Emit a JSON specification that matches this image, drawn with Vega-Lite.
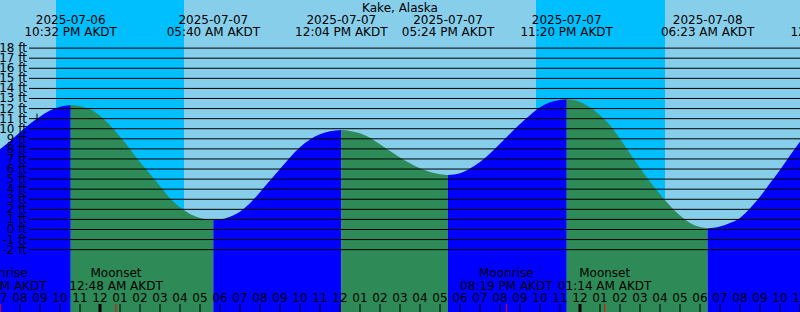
{
  "$schema": "https://vega.github.io/schema/vega-lite/v6.json",
  "width": 800,
  "height": 312,
  "padding": 0,
  "autosize": {"type": "none"},
  "background": "#87CEEB",
  "config": {"view": {"stroke": null}},
  "resolve": {"scale": {"color": "independent"}},
  "datasets": {
    "sky": [
      {"start": "2025-07-06T19:00", "end": "2025-07-06T21:48", "period": "day"},
      {"start": "2025-07-06T21:48", "end": "2025-07-07T04:12", "period": "night"},
      {"start": "2025-07-07T04:12", "end": "2025-07-07T21:48", "period": "day"},
      {"start": "2025-07-07T21:48", "end": "2025-07-08T04:15", "period": "night"},
      {"start": "2025-07-08T04:15", "end": "2025-07-08T11:00", "period": "day"}
    ],
    "tide": [
      {"t": "2025-07-06T19:00", "ft": 7.96, "seg": 1, "phase": "rising"},
      {"t": "2025-07-06T19:30", "ft": 8.75, "seg": 1, "phase": "rising"},
      {"t": "2025-07-06T20:00", "ft": 9.65, "seg": 1, "phase": "rising"},
      {"t": "2025-07-06T20:30", "ft": 10.5, "seg": 1, "phase": "rising"},
      {"t": "2025-07-06T21:00", "ft": 11.2, "seg": 1, "phase": "rising"},
      {"t": "2025-07-06T21:30", "ft": 11.8, "seg": 1, "phase": "rising"},
      {"t": "2025-07-06T22:00", "ft": 12.18, "seg": 1, "phase": "rising"},
      {"t": "2025-07-06T22:32", "ft": 12.35, "seg": 1, "phase": "rising"},
      {"t": "2025-07-06T22:32", "ft": 12.35, "seg": 2, "phase": "falling"},
      {"t": "2025-07-06T23:00", "ft": 12.24, "seg": 2, "phase": "falling"},
      {"t": "2025-07-06T23:25", "ft": 12.0, "seg": 2, "phase": "falling"},
      {"t": "2025-07-07T00:10", "ft": 11.0, "seg": 2, "phase": "falling"},
      {"t": "2025-07-07T00:40", "ft": 10.0, "seg": 2, "phase": "falling"},
      {"t": "2025-07-07T01:05", "ft": 9.0, "seg": 2, "phase": "falling"},
      {"t": "2025-07-07T01:30", "ft": 8.0, "seg": 2, "phase": "falling"},
      {"t": "2025-07-07T01:52", "ft": 7.0, "seg": 2, "phase": "falling"},
      {"t": "2025-07-07T02:15", "ft": 6.1, "seg": 2, "phase": "falling"},
      {"t": "2025-07-07T02:40", "ft": 5.1, "seg": 2, "phase": "falling"},
      {"t": "2025-07-07T03:05", "ft": 4.1, "seg": 2, "phase": "falling"},
      {"t": "2025-07-07T03:30", "ft": 3.1, "seg": 2, "phase": "falling"},
      {"t": "2025-07-07T04:00", "ft": 2.2, "seg": 2, "phase": "falling"},
      {"t": "2025-07-07T04:30", "ft": 1.55, "seg": 2, "phase": "falling"},
      {"t": "2025-07-07T05:00", "ft": 1.15, "seg": 2, "phase": "falling"},
      {"t": "2025-07-07T05:20", "ft": 1.0, "seg": 2, "phase": "falling"},
      {"t": "2025-07-07T05:40", "ft": 0.94, "seg": 2, "phase": "falling"},
      {"t": "2025-07-07T05:40", "ft": 0.94, "seg": 3, "phase": "rising"},
      {"t": "2025-07-07T06:00", "ft": 1.0, "seg": 3, "phase": "rising"},
      {"t": "2025-07-07T06:30", "ft": 1.27, "seg": 3, "phase": "rising"},
      {"t": "2025-07-07T07:00", "ft": 1.77, "seg": 3, "phase": "rising"},
      {"t": "2025-07-07T07:30", "ft": 2.6, "seg": 3, "phase": "rising"},
      {"t": "2025-07-07T08:00", "ft": 3.7, "seg": 3, "phase": "rising"},
      {"t": "2025-07-07T08:30", "ft": 4.85, "seg": 3, "phase": "rising"},
      {"t": "2025-07-07T09:00", "ft": 6.0, "seg": 3, "phase": "rising"},
      {"t": "2025-07-07T09:30", "ft": 7.15, "seg": 3, "phase": "rising"},
      {"t": "2025-07-07T10:00", "ft": 8.15, "seg": 3, "phase": "rising"},
      {"t": "2025-07-07T10:30", "ft": 8.92, "seg": 3, "phase": "rising"},
      {"t": "2025-07-07T11:00", "ft": 9.45, "seg": 3, "phase": "rising"},
      {"t": "2025-07-07T11:30", "ft": 9.74, "seg": 3, "phase": "rising"},
      {"t": "2025-07-07T12:04", "ft": 9.87, "seg": 3, "phase": "rising"},
      {"t": "2025-07-07T12:04", "ft": 9.87, "seg": 4, "phase": "falling"},
      {"t": "2025-07-07T12:30", "ft": 9.78, "seg": 4, "phase": "falling"},
      {"t": "2025-07-07T13:00", "ft": 9.55, "seg": 4, "phase": "falling"},
      {"t": "2025-07-07T13:30", "ft": 9.1, "seg": 4, "phase": "falling"},
      {"t": "2025-07-07T14:00", "ft": 8.45, "seg": 4, "phase": "falling"},
      {"t": "2025-07-07T14:30", "ft": 7.78, "seg": 4, "phase": "falling"},
      {"t": "2025-07-07T15:00", "ft": 7.15, "seg": 4, "phase": "falling"},
      {"t": "2025-07-07T15:30", "ft": 6.58, "seg": 4, "phase": "falling"},
      {"t": "2025-07-07T16:00", "ft": 6.08, "seg": 4, "phase": "falling"},
      {"t": "2025-07-07T16:30", "ft": 5.7, "seg": 4, "phase": "falling"},
      {"t": "2025-07-07T17:00", "ft": 5.48, "seg": 4, "phase": "falling"},
      {"t": "2025-07-07T17:24", "ft": 5.41, "seg": 4, "phase": "falling"},
      {"t": "2025-07-07T17:24", "ft": 5.41, "seg": 5, "phase": "rising"},
      {"t": "2025-07-07T18:00", "ft": 5.58, "seg": 5, "phase": "rising"},
      {"t": "2025-07-07T18:30", "ft": 6.05, "seg": 5, "phase": "rising"},
      {"t": "2025-07-07T19:00", "ft": 6.7, "seg": 5, "phase": "rising"},
      {"t": "2025-07-07T19:30", "ft": 7.53, "seg": 5, "phase": "rising"},
      {"t": "2025-07-07T20:00", "ft": 8.5, "seg": 5, "phase": "rising"},
      {"t": "2025-07-07T20:30", "ft": 9.5, "seg": 5, "phase": "rising"},
      {"t": "2025-07-07T21:00", "ft": 10.48, "seg": 5, "phase": "rising"},
      {"t": "2025-07-07T21:30", "ft": 11.33, "seg": 5, "phase": "rising"},
      {"t": "2025-07-07T22:00", "ft": 12.12, "seg": 5, "phase": "rising"},
      {"t": "2025-07-07T22:30", "ft": 12.63, "seg": 5, "phase": "rising"},
      {"t": "2025-07-07T23:00", "ft": 12.86, "seg": 5, "phase": "rising"},
      {"t": "2025-07-07T23:20", "ft": 12.92, "seg": 5, "phase": "rising"},
      {"t": "2025-07-07T23:20", "ft": 12.92, "seg": 6, "phase": "falling"},
      {"t": "2025-07-08T00:00", "ft": 12.66, "seg": 6, "phase": "falling"},
      {"t": "2025-07-08T00:30", "ft": 12.1, "seg": 6, "phase": "falling"},
      {"t": "2025-07-08T01:00", "ft": 11.35, "seg": 6, "phase": "falling"},
      {"t": "2025-07-08T01:30", "ft": 10.35, "seg": 6, "phase": "falling"},
      {"t": "2025-07-08T02:00", "ft": 9.0, "seg": 6, "phase": "falling"},
      {"t": "2025-07-08T02:30", "ft": 7.55, "seg": 6, "phase": "falling"},
      {"t": "2025-07-08T03:00", "ft": 6.1, "seg": 6, "phase": "falling"},
      {"t": "2025-07-08T03:30", "ft": 4.73, "seg": 6, "phase": "falling"},
      {"t": "2025-07-08T04:00", "ft": 3.5, "seg": 6, "phase": "falling"},
      {"t": "2025-07-08T04:30", "ft": 2.35, "seg": 6, "phase": "falling"},
      {"t": "2025-07-08T05:00", "ft": 1.38, "seg": 6, "phase": "falling"},
      {"t": "2025-07-08T05:30", "ft": 0.65, "seg": 6, "phase": "falling"},
      {"t": "2025-07-08T06:00", "ft": 0.25, "seg": 6, "phase": "falling"},
      {"t": "2025-07-08T06:23", "ft": 0.12, "seg": 6, "phase": "falling"},
      {"t": "2025-07-08T06:23", "ft": 0.12, "seg": 7, "phase": "rising"},
      {"t": "2025-07-08T07:00", "ft": 0.3, "seg": 7, "phase": "rising"},
      {"t": "2025-07-08T07:30", "ft": 0.65, "seg": 7, "phase": "rising"},
      {"t": "2025-07-08T08:00", "ft": 1.15, "seg": 7, "phase": "rising"},
      {"t": "2025-07-08T08:30", "ft": 2.1, "seg": 7, "phase": "rising"},
      {"t": "2025-07-08T09:00", "ft": 3.25, "seg": 7, "phase": "rising"},
      {"t": "2025-07-08T09:30", "ft": 4.58, "seg": 7, "phase": "rising"},
      {"t": "2025-07-08T10:00", "ft": 5.9, "seg": 7, "phase": "rising"},
      {"t": "2025-07-08T10:30", "ft": 7.35, "seg": 7, "phase": "rising"},
      {"t": "2025-07-08T11:00", "ft": 8.71, "seg": 7, "phase": "rising"}
    ],
    "levels": [
      {"ft": 18, "label": "18 ft"}, {"ft": 17, "label": "17 ft"}, {"ft": 16, "label": "16 ft"},
      {"ft": 15, "label": "15 ft"}, {"ft": 14, "label": "14 ft"}, {"ft": 13, "label": "13 ft"},
      {"ft": 12, "label": "12 ft"}, {"ft": 11, "label": "11 ft"}, {"ft": 10, "label": "10 ft"},
      {"ft": 9, "label": "9 ft"}, {"ft": 8, "label": "8 ft"}, {"ft": 7, "label": "7 ft"},
      {"ft": 6, "label": "6 ft"}, {"ft": 5, "label": "5 ft"}, {"ft": 4, "label": "4 ft"},
      {"ft": 3, "label": "3 ft"}, {"ft": 2, "label": "2 ft"}, {"ft": 1, "label": "1 ft"},
      {"ft": 0, "label": "0 ft"}, {"ft": -1, "label": "-1 ft"}, {"ft": -2, "label": "-2 ft"}
    ],
    "extremes": [
      {"t": "2025-07-06T22:32", "type": "High"},
      {"t": "2025-07-07T05:40", "type": "Low"},
      {"t": "2025-07-07T12:04", "type": "High"},
      {"t": "2025-07-07T17:24", "type": "Low"},
      {"t": "2025-07-07T23:20", "type": "High"},
      {"t": "2025-07-08T06:23", "type": "Low"},
      {"t": "2025-07-08T12:50", "type": "High"}
    ],
    "moon": [
      {"t": "2025-07-06T19:01", "event": "Moonrise"},
      {"t": "2025-07-07T00:48", "event": "Moonset"},
      {"t": "2025-07-07T20:19", "event": "Moonrise"},
      {"t": "2025-07-08T01:14", "event": "Moonset"}
    ],
    "hours": [
      {"t": "2025-07-06T19:00"}, {"t": "2025-07-06T20:00"}, {"t": "2025-07-06T21:00"},
      {"t": "2025-07-06T22:00"}, {"t": "2025-07-06T23:00"}, {"t": "2025-07-07T00:00"},
      {"t": "2025-07-07T01:00"}, {"t": "2025-07-07T02:00"}, {"t": "2025-07-07T03:00"},
      {"t": "2025-07-07T04:00"}, {"t": "2025-07-07T05:00"}, {"t": "2025-07-07T06:00"},
      {"t": "2025-07-07T07:00"}, {"t": "2025-07-07T08:00"}, {"t": "2025-07-07T09:00"},
      {"t": "2025-07-07T10:00"}, {"t": "2025-07-07T11:00"}, {"t": "2025-07-07T12:00"},
      {"t": "2025-07-07T13:00"}, {"t": "2025-07-07T14:00"}, {"t": "2025-07-07T15:00"},
      {"t": "2025-07-07T16:00"}, {"t": "2025-07-07T17:00"}, {"t": "2025-07-07T18:00"},
      {"t": "2025-07-07T19:00"}, {"t": "2025-07-07T20:00"}, {"t": "2025-07-07T21:00"},
      {"t": "2025-07-07T22:00"}, {"t": "2025-07-07T23:00"}, {"t": "2025-07-08T00:00"},
      {"t": "2025-07-08T01:00"}, {"t": "2025-07-08T02:00"}, {"t": "2025-07-08T03:00"},
      {"t": "2025-07-08T04:00"}, {"t": "2025-07-08T05:00"}, {"t": "2025-07-08T06:00"},
      {"t": "2025-07-08T07:00"}, {"t": "2025-07-08T08:00"}, {"t": "2025-07-08T09:00"},
      {"t": "2025-07-08T10:00"}, {"t": "2025-07-08T11:00"}
    ]
  },
  "layer": [
    {
      "data": {"name": "sky", "format": {"parse": {"start": "date", "end": "date"}}},
      "mark": {"type": "rect"},
      "encoding": {
        "x": {"field": "start", "type": "temporal", "axis": null, "scale": {"domain": [{"year": 2025, "month": 7, "date": 6, "hours": 19}, {"year": 2025, "month": 7, "date": 8, "hours": 11}], "nice": false}},
        "x2": {"field": "end"},
        "color": {"field": "period", "type": "nominal", "legend": null, "scale": {"domain": ["day", "night"], "range": ["#87CEEB", "#00BFFF"]}}
      }
    },
    {
      "data": {"name": "tide", "format": {"parse": {"t": "date"}}},
      "mark": {"type": "area", "interpolate": "monotone"},
      "encoding": {
        "x": {"field": "t", "type": "temporal", "axis": null, "scale": {"domain": [{"year": 2025, "month": 7, "date": 6, "hours": 19}, {"year": 2025, "month": 7, "date": 8, "hours": 11}], "nice": false}},
        "y": {"field": "ft", "type": "quantitative", "axis": null, "stack": null, "scale": {"domain": [-8.188, 22.775], "nice": false, "zero": false}},
        "y2": {"datum": -8.188},
        "color": {"field": "phase", "type": "nominal", "legend": null, "scale": {"domain": ["rising", "falling"], "range": ["#0000FF", "#2E8B57"]}},
        "detail": {"field": "seg"}
      }
    },
    {
      "data": {"name": "levels"},
      "mark": {"type": "rule", "color": "black", "strokeWidth": 1},
      "encoding": {
        "y": {"field": "ft", "type": "quantitative", "axis": null, "scale": {"domain": [-8.188, 22.775], "nice": false, "zero": false}},
        "x": {"datum": {"year": 2025, "month": 7, "date": 6, "hours": 20, "minutes": 27}, "type": "temporal", "axis": null, "scale": {"domain": [{"year": 2025, "month": 7, "date": 6, "hours": 19}, {"year": 2025, "month": 7, "date": 8, "hours": 11}], "nice": false}},
        "x2": {"datum": {"year": 2025, "month": 7, "date": 8, "hours": 11}}
      }
    },
    {
      "data": {"name": "levels"},
      "mark": {"type": "text", "font": "DejaVu Sans", "fontSize": 12, "fill": "black", "align": "right", "baseline": "middle"},
      "encoding": {
        "y": {"field": "ft", "type": "quantitative", "axis": null, "scale": {"domain": [-8.188, 22.775], "nice": false, "zero": false}},
        "x": {"datum": {"year": 2025, "month": 7, "date": 6, "hours": 20, "minutes": 21}, "type": "temporal", "axis": null, "scale": {"domain": [{"year": 2025, "month": 7, "date": 6, "hours": 19}, {"year": 2025, "month": 7, "date": 8, "hours": 11}], "nice": false}},
        "text": {"field": "label"}
      }
    },
    {
      "data": {"values": [{"t": "2025-07-06T20:51"}], "format": {"parse": {"t": "date"}}},
      "mark": {"type": "rule", "color": "black", "strokeWidth": 1},
      "encoding": {
        "x": {"field": "t", "type": "temporal", "axis": null, "scale": {"domain": [{"year": 2025, "month": 7, "date": 6, "hours": 19}, {"year": 2025, "month": 7, "date": 8, "hours": 11}], "nice": false}},
        "y": {"datum": 11.5, "type": "quantitative", "axis": null, "scale": {"domain": [-8.188, 22.775], "nice": false, "zero": false}},
        "y2": {"datum": 10.55}
      }
    },
    {
      "data": {"values": [{"station": "Kake, Alaska"}]},
      "mark": {"type": "text", "font": "DejaVu Sans", "fontSize": 12, "fill": "black", "align": "center", "baseline": "alphabetic"},
      "encoding": {
        "x": {"datum": {"year": 2025, "month": 7, "date": 7, "hours": 15}, "type": "temporal", "axis": null, "scale": {"domain": [{"year": 2025, "month": 7, "date": 6, "hours": 19}, {"year": 2025, "month": 7, "date": 8, "hours": 11}], "nice": false}},
        "y": {"datum": 21.584, "type": "quantitative", "axis": null, "scale": {"domain": [-8.188, 22.775], "nice": false, "zero": false}},
        "text": {"field": "station"}
      }
    },
    {
      "data": {"name": "extremes", "format": {"parse": {"t": "date"}}},
      "mark": {"type": "text", "font": "DejaVu Sans", "fontSize": 12, "fill": "black", "align": "center", "baseline": "alphabetic"},
      "encoding": {
        "x": {"field": "t", "type": "temporal", "axis": null, "scale": {"domain": [{"year": 2025, "month": 7, "date": 6, "hours": 19}, {"year": 2025, "month": 7, "date": 8, "hours": 11}], "nice": false}},
        "y": {"datum": 20.393, "type": "quantitative", "axis": null, "scale": {"domain": [-8.188, 22.775], "nice": false, "zero": false}},
        "text": {"field": "t", "type": "temporal", "format": "%Y-%m-%d"}
      }
    },
    {
      "data": {"name": "extremes", "format": {"parse": {"t": "date"}}},
      "mark": {"type": "text", "font": "DejaVu Sans", "fontSize": 12, "fill": "black", "align": "center", "baseline": "alphabetic"},
      "encoding": {
        "x": {"field": "t", "type": "temporal", "axis": null, "scale": {"domain": [{"year": 2025, "month": 7, "date": 6, "hours": 19}, {"year": 2025, "month": 7, "date": 8, "hours": 11}], "nice": false}},
        "y": {"datum": 19.202, "type": "quantitative", "axis": null, "scale": {"domain": [-8.188, 22.775], "nice": false, "zero": false}},
        "text": {"field": "t", "type": "temporal", "format": "%I:%M %p AKDT"}
      }
    },
    {
      "data": {"name": "moon", "format": {"parse": {"t": "date"}}},
      "mark": {"type": "text", "font": "DejaVu Sans", "fontSize": 12, "fill": "black", "align": "center", "baseline": "alphabetic"},
      "encoding": {
        "x": {"field": "t", "type": "temporal", "axis": null, "scale": {"domain": [{"year": 2025, "month": 7, "date": 6, "hours": 19}, {"year": 2025, "month": 7, "date": 8, "hours": 11}], "nice": false}},
        "y": {"datum": -4.763, "type": "quantitative", "axis": null, "scale": {"domain": [-8.188, 22.775], "nice": false, "zero": false}},
        "text": {"field": "event"}
      }
    },
    {
      "data": {"name": "moon", "format": {"parse": {"t": "date"}}},
      "mark": {"type": "text", "font": "DejaVu Sans", "fontSize": 12, "fill": "black", "align": "center", "baseline": "alphabetic"},
      "encoding": {
        "x": {"field": "t", "type": "temporal", "axis": null, "scale": {"domain": [{"year": 2025, "month": 7, "date": 6, "hours": 19}, {"year": 2025, "month": 7, "date": 8, "hours": 11}], "nice": false}},
        "y": {"datum": -6.004, "type": "quantitative", "axis": null, "scale": {"domain": [-8.188, 22.775], "nice": false, "zero": false}},
        "text": {"field": "t", "type": "temporal", "format": "%I:%M %p AKDT"}
      }
    },
    {
      "data": {"name": "hours", "format": {"parse": {"t": "date"}}},
      "mark": {"type": "text", "font": "DejaVu Sans", "fontSize": 12, "fill": "black", "align": "center", "baseline": "alphabetic"},
      "encoding": {
        "x": {"field": "t", "type": "temporal", "axis": null, "scale": {"domain": [{"year": 2025, "month": 7, "date": 6, "hours": 19}, {"year": 2025, "month": 7, "date": 8, "hours": 11}], "nice": false}},
        "y": {"datum": -7.195, "type": "quantitative", "axis": null, "scale": {"domain": [-8.188, 22.775], "nice": false, "zero": false}},
        "text": {"field": "t", "type": "temporal", "format": "%I"}
      }
    },
    {
      "data": {"name": "hours", "format": {"parse": {"t": "date"}}},
      "mark": {"type": "rule", "color": "black", "strokeWidth": 1},
      "encoding": {
        "x": {"field": "t", "type": "temporal", "axis": null, "scale": {"domain": [{"year": 2025, "month": 7, "date": 6, "hours": 19}, {"year": 2025, "month": 7, "date": 8, "hours": 11}], "nice": false}},
        "y": {"datum": -7.393, "type": "quantitative", "axis": null, "scale": {"domain": [-8.188, 22.775], "nice": false, "zero": false}},
        "y2": {"datum": -8.188}
      }
    },
    {
      "data": {"name": "hours", "format": {"parse": {"t": "date"}}},
      "transform": [{"filter": "hours(datum.t) == 0"}],
      "mark": {"type": "rule", "color": "black", "strokeWidth": 3},
      "encoding": {
        "x": {"field": "t", "type": "temporal", "axis": null, "scale": {"domain": [{"year": 2025, "month": 7, "date": 6, "hours": 19}, {"year": 2025, "month": 7, "date": 8, "hours": 11}], "nice": false}},
        "y": {"datum": -7.393, "type": "quantitative", "axis": null, "scale": {"domain": [-8.188, 22.775], "nice": false, "zero": false}},
        "y2": {"datum": -8.188}
      }
    },
    {
      "data": {"name": "moon", "format": {"parse": {"t": "date"}}},
      "mark": {"type": "rule", "color": "#FF0000", "strokeWidth": 1},
      "encoding": {
        "x": {"field": "t", "type": "temporal", "axis": null, "scale": {"domain": [{"year": 2025, "month": 7, "date": 6, "hours": 19}, {"year": 2025, "month": 7, "date": 8, "hours": 11}], "nice": false}},
        "y": {"datum": -7.393, "type": "quantitative", "axis": null, "scale": {"domain": [-8.188, 22.775], "nice": false, "zero": false}},
        "y2": {"datum": -8.188}
      }
    }
  ]
}
